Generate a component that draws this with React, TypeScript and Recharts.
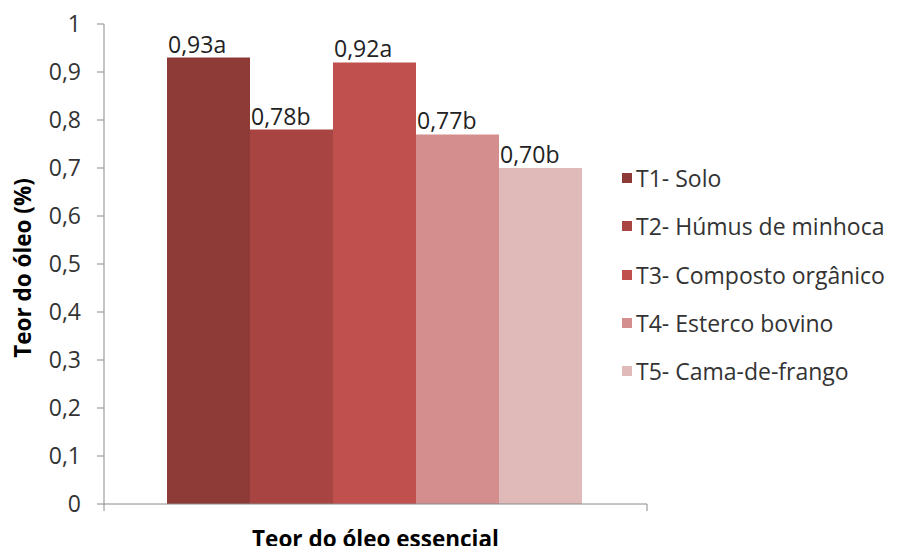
import { BarChart, Bar, XAxis, YAxis, LabelList } from 'recharts'

const category = 'Teor do óleo essencial'
const seriesKeys = ['T1', 'T2', 'T3', 'T4', 'T5']
const seriesNames = [
    'T1- Solo',
    'T2- Húmus de minhoca',
    'T3- Composto orgânico',
    'T4- Esterco bovino',
    'T5- Cama-de-frango',
]
const seriesValues = [0.93, 0.78, 0.92, 0.77, 0.70]
const valueLabels = ['0,93a', '0,78b', '0,92a', '0,77b', '0,70b']
const yTicks = [0, 0.1, 0.2, 0.3, 0.4, 0.5, 0.6, 0.7, 0.8, 0.9, 1]
const colors = ['#8E3A37', '#A84441', '#C0504D', '#D38E8D', '#E0B9B9']

const row: Record<string, string | number> = { name: category }
seriesKeys.forEach((k, i) => { row[k] = seriesValues[i] })
const data = [row]

const FONT = '"Open Sans", sans-serif'
const W = 898
const H = 554
const M = { top: 24, right: 251, bottom: 0, left: 54 }
const Y_W = 50
const X_H = 50
const axisColor = '#8a8a8a'

const fmt = (v: number) => (v === 0 || v === 1 ? String(v) : v.toFixed(1).replace('.', ','))

function CategoryTick(props: any) {
    const { x, y, payload } = props
    return (
        <text x={x} y={y + 35} textAnchor="middle" fontFamily={FONT} fontWeight={700} fontSize={22.5} fill="#000">
            {payload.value}
        </text>
    )
}

export default function App() {
    const plotLeft = M.left + Y_W
    const plotRight = W - M.right
    const plotBottom = H - M.bottom - X_H
    return (
        <div style={{ position: 'relative', width: W, height: H, margin: -8, background: '#fff' }}>
            <BarChart width={W} height={H} data={data} margin={M} barCategoryGap={63} barGap={0}>
                <XAxis
                    dataKey="name"
                    height={X_H}
                    stroke={axisColor}
                    tickLine={false}
                    tick={<CategoryTick />}
                />
                <YAxis
                    width={Y_W}
                    domain={[0, 1]}
                    ticks={yTicks}
                    tickFormatter={fmt}
                    stroke={axisColor}
                    tickSize={7}
                    tickMargin={16}
                    tick={{ fill: '#333', fontSize: 23, fontFamily: FONT }}
                />
                {seriesKeys.map((k, i) => (
                    <Bar key={k} dataKey={k} name={seriesNames[i]} fill={colors[i]} isAnimationActive={false}>
                        <LabelList
                            dataKey={k}
                            position="top"
                            content={(p: any) => (
                                <text x={p.x + 1} y={p.y - 5} fontFamily={FONT} fontSize={23} fill="#222">
                                    {valueLabels[i]}
                                </text>
                            )}
                        />
                    </Bar>
                ))}
            </BarChart>
            <svg width={W} height={H} style={{ position: 'absolute', left: 0, top: 0, pointerEvents: 'none' }}>
                <line x1={plotLeft} x2={plotLeft} y1={plotBottom} y2={plotBottom + 7} stroke={axisColor} />
                <line x1={plotRight} x2={plotRight} y1={plotBottom} y2={plotBottom + 7} stroke={axisColor} />
                <text
                    transform={`translate(31, ${(M.top + plotBottom) / 2 + 4}) rotate(-90)`}
                    textAnchor="middle"
                    fontFamily={FONT}
                    fontWeight={700}
                    fontSize={22.5}
                    fill="#000"
                >
                    Teor do óleo (%)
                </text>
            </svg>
            <div style={{ position: 'absolute', left: 622, top: 154, fontFamily: FONT, fontSize: 23, color: '#333' }}>
                {seriesNames.map((n, i) => (
                    <div key={n} style={{ display: 'flex', alignItems: 'center', height: 48.3, whiteSpace: 'nowrap' }}>
                        <span style={{ width: 10, height: 10, background: colors[i], marginRight: 4, display: 'inline-block' }} />
                        <span>{n}</span>
                    </div>
                ))}
            </div>
        </div>
    )
}
